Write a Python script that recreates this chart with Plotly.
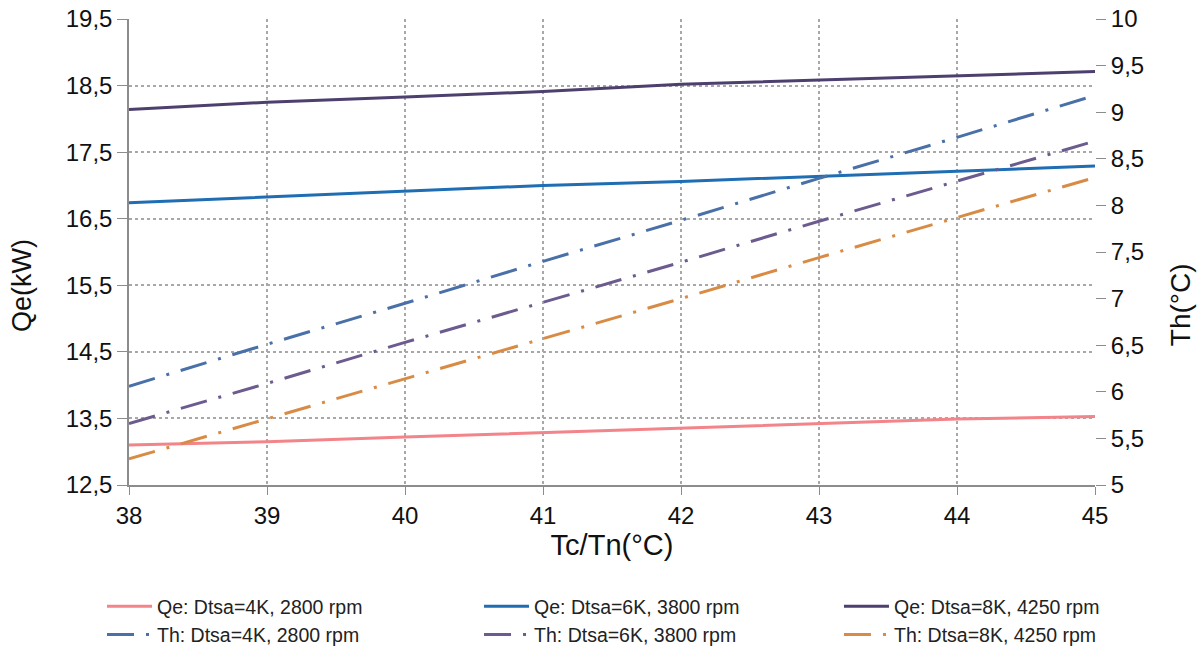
import plotly.graph_objects as go

x_vals = [38, 39, 40, 41, 42, 43, 44, 45]

qe_4k = [13.10, 13.15, 13.22, 13.29, 13.36, 13.43, 13.49, 13.53]
qe_6k = [16.74, 16.83, 16.92, 17.00, 17.06, 17.14, 17.21, 17.29]
qe_8k = [18.14, 18.25, 18.33, 18.41, 18.52, 18.58, 18.65, 18.71]

th_4k = [6.06, 6.51, 6.95, 7.40, 7.84, 8.29, 8.73, 9.18]
th_6k = [5.66, 6.09, 6.53, 6.96, 7.39, 7.83, 8.26, 8.69]
th_8k = [5.28, 5.71, 6.14, 6.57, 7.00, 7.44, 7.87, 8.30]

names = ["Qe: Dtsa=4K, 2800 rpm", "Qe: Dtsa=6K, 3800 rpm", "Qe: Dtsa=8K, 4250 rpm",
         "Th: Dtsa=4K, 2800 rpm", "Th: Dtsa=6K, 3800 rpm", "Th: Dtsa=8K, 4250 rpm"]

left_ticks = [12.5, 13.5, 14.5, 15.5, 16.5, 17.5, 18.5, 19.5]
left_labels = ["12,5", "13,5", "14,5", "15,5", "16,5", "17,5", "18,5", "19,5"]
right_ticks = [5, 5.5, 6, 6.5, 7, 7.5, 8, 8.5, 9, 9.5, 10]
right_labels = ["5", "5,5", "6", "6,5", "7", "7,5", "8", "8,5", "9", "9,5", "10"]

x_title = "Tc/Tn(°C)"
y_title = "Qe(kW)"
y2_title = "Th(°C)"

colors = ["#F2848A", "#1F6DB3", "#4D3F6E", "#4A70A8", "#6B5B8E", "#D88B45"]
dashdot = "27px,12px,3px,12px"
legend_ids = ["legend", "legend2", "legend3"]

fig = go.Figure()
for i, (vals, nm, c) in enumerate(zip([qe_4k, qe_6k, qe_8k], names[:3], colors[:3])):
    fig.add_trace(go.Scatter(x=x_vals, y=vals, name=nm, mode="lines",
                             line=dict(color=c, width=3), yaxis="y",
                             legend=legend_ids[i]))
for i, (vals, nm, c) in enumerate(zip([th_4k, th_6k, th_8k], names[3:], colors[3:])):
    fig.add_trace(go.Scatter(x=x_vals, y=vals, name=nm, mode="lines",
                             line=dict(color=c, width=3, dash=dashdot), yaxis="y2",
                             legend=legend_ids[i]))

font_family = "Liberation Sans, Arial, sans-serif"
legend_font = dict(size=19.5, family=font_family, color="#222222")


def legend_box(xpos):
    return dict(orientation="v", xref="container", yref="container",
                x=xpos, y=0.0997, xanchor="left", yanchor="top",
                font=legend_font, itemwidth=45, tracegroupgap=0,
                bgcolor="rgba(0,0,0,0)")


fig.update_layout(
    width=1203, height=652,
    margin=dict(l=129, r=108, t=19, b=167, autoexpand=False),
    paper_bgcolor="white", plot_bgcolor="white",
    font=dict(family=font_family, color="#111111"),
    showlegend=True,
    legend=legend_box(0.0848),
    legend2=legend_box(0.3982),
    legend3=legend_box(0.6974),
    xaxis=dict(range=[38, 45], tickvals=x_vals, ticktext=[str(v) for v in x_vals],
               showgrid=True, gridcolor="#A8A8A8", griddash="dot", gridwidth=1.5,
               showline=True, linecolor="#8C8C8C", linewidth=1.5,
               ticks="outside", ticklen=8, tickcolor="#8C8C8C",
               tickfont=dict(size=24), zeroline=False, automargin=False,
               title=dict(text=x_title, font=dict(size=29), standoff=6)),
    yaxis=dict(range=[12.5, 19.5], tickvals=left_ticks, ticktext=left_labels,
               showgrid=True, gridcolor="#A8A8A8", griddash="dot", gridwidth=1.5,
               showline=True, linecolor="#8C8C8C", linewidth=1.5,
               ticks="outside", ticklen=10, tickcolor="#8C8C8C",
               tickfont=dict(size=24), zeroline=False, automargin=False,
               ticklabeloverflow="allow"),
    yaxis2=dict(range=[5, 10], tickvals=right_ticks, ticktext=right_labels,
                overlaying="y", side="right", showgrid=False, zeroline=False,
                showline=False, ticks="outside", ticklen=10, tickcolor="#8C8C8C",
                tickfont=dict(size=24), automargin=False,
                ticklabeloverflow="allow"),
)

fig.add_annotation(text=y_title, xref="paper", yref="paper", x=-0.1108, y=0.4292,
                   xanchor="center", yanchor="middle", textangle=-90,
                   showarrow=False, font=dict(size=27, family=font_family, color="#111111"))
fig.add_annotation(text=y2_title, xref="paper", yref="paper", x=1.088, y=0.386,
                   xanchor="center", yanchor="middle", textangle=-90,
                   showarrow=False, font=dict(size=28, family=font_family, color="#111111"))

fig.write_html("out.html",
               config={"displayModeBar": False},
               post_script="document.body.style.margin='0px';document.body.style.overflow='hidden';")
